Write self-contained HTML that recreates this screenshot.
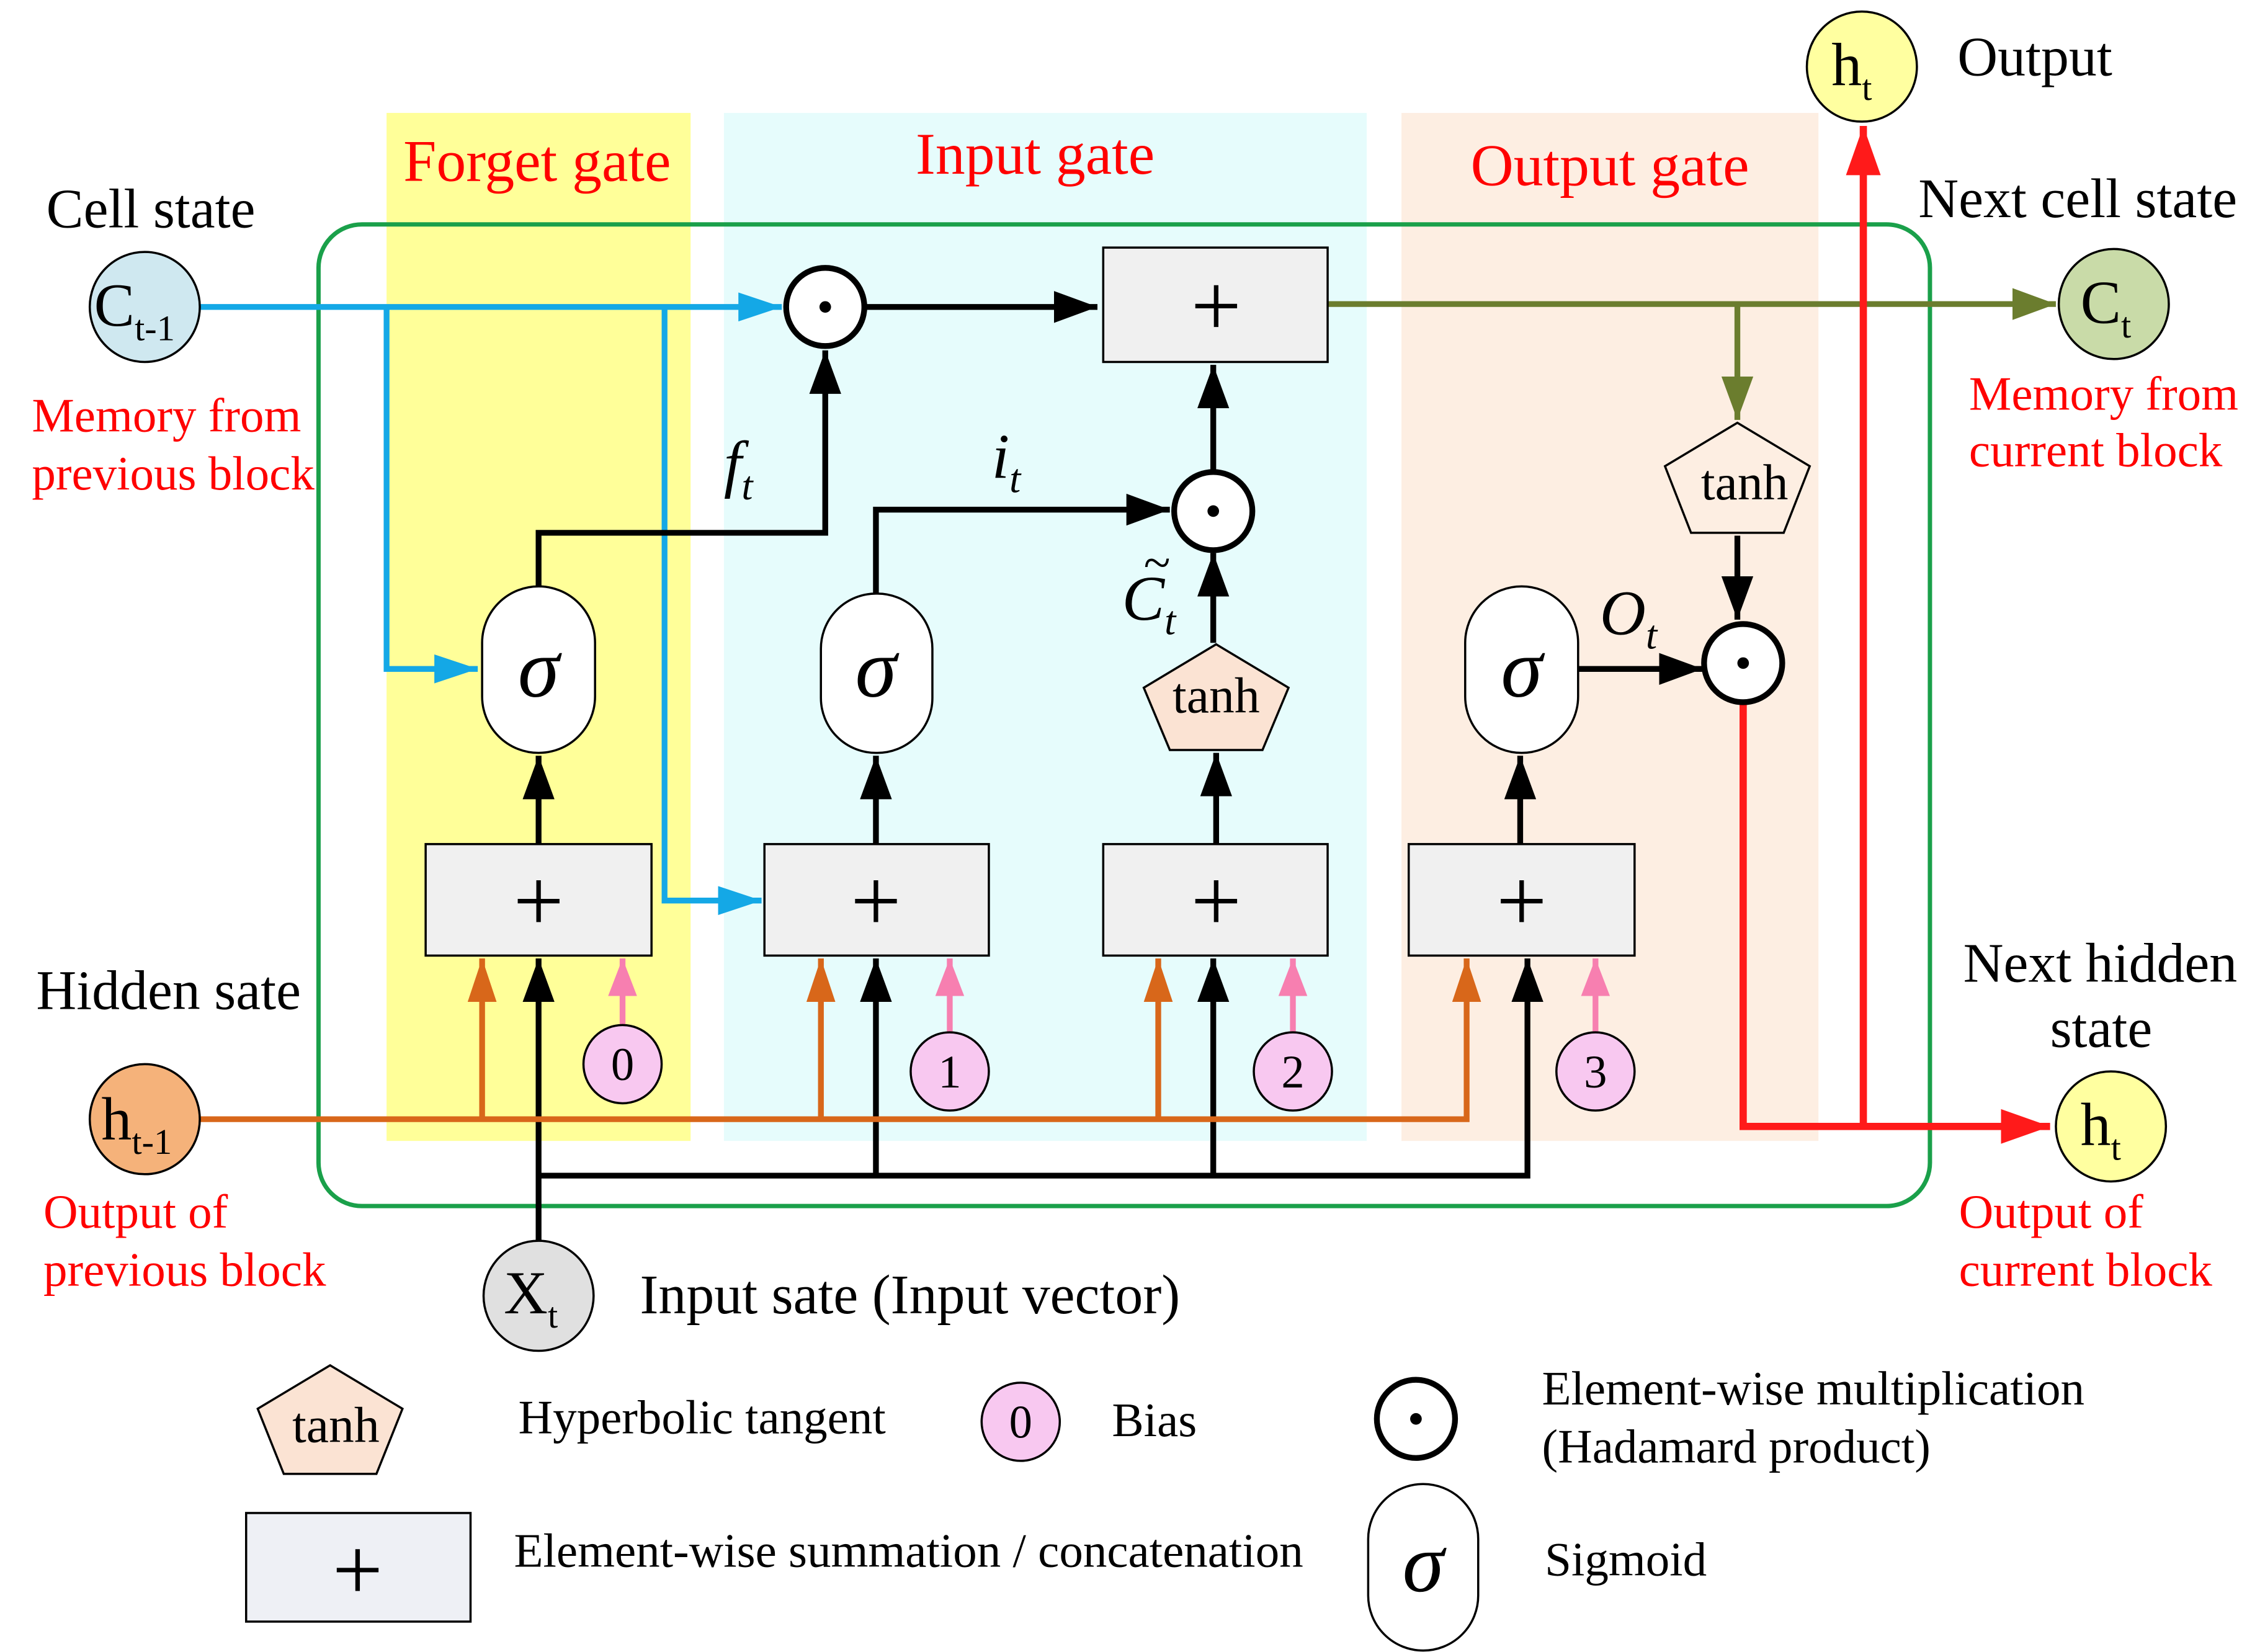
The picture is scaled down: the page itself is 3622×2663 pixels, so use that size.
<!DOCTYPE html>
<html><head><meta charset="utf-8"><style>
html,body{margin:0;padding:0;background:#fff}
svg{display:block}
text{font-family:"Liberation Serif",serif}
</style></head><body>
<svg width="3622" height="2663" viewBox="0 0 1552 1141" preserveAspectRatio="none" xmlns="http://www.w3.org/2000/svg">
<defs>
<marker id="mk" viewBox="0 0 10 10" refX="10" refY="5" markerWidth="30" markerHeight="22" orient="auto" markerUnits="userSpaceOnUse" preserveAspectRatio="none"><path d="M0,0 L10,5 L0,10z" fill="#000"/></marker>
<marker id="mb" viewBox="0 0 10 10" refX="10" refY="5" markerWidth="30" markerHeight="20" orient="auto" markerUnits="userSpaceOnUse" preserveAspectRatio="none"><path d="M0,0 L10,5 L0,10z" fill="#14a8e6"/></marker>
<marker id="mo" viewBox="0 0 10 10" refX="10" refY="5" markerWidth="30" markerHeight="20" orient="auto" markerUnits="userSpaceOnUse" preserveAspectRatio="none"><path d="M0,0 L10,5 L0,10z" fill="#d8671a"/></marker>
<marker id="mp" viewBox="0 0 10 10" refX="10" refY="5" markerWidth="26" markerHeight="20" orient="auto" markerUnits="userSpaceOnUse" preserveAspectRatio="none"><path d="M0,0 L10,5 L0,10z" fill="#f77fb0"/></marker>
<marker id="mg" viewBox="0 0 10 10" refX="10" refY="5" markerWidth="30" markerHeight="22" orient="auto" markerUnits="userSpaceOnUse" preserveAspectRatio="none"><path d="M0,0 L10,5 L0,10z" fill="#6b7d2e"/></marker>
<marker id="mr" viewBox="0 0 10 10" refX="10" refY="5" markerWidth="34" markerHeight="24" orient="auto" markerUnits="userSpaceOnUse" preserveAspectRatio="none"><path d="M0,0 L10,5 L0,10z" fill="#ff1a1a"/></marker>
</defs>

<rect x="267" y="78" width="210" height="710" fill="#ffff99"/>
<rect x="500" y="78" width="444" height="710" fill="#e6fcfc"/>
<rect x="968" y="78" width="288" height="710" fill="#fdeee2"/>
<rect x="220" y="155" width="1113" height="678" rx="30" fill="none" stroke="#1aa04a" stroke-width="3"/>

<text x="371" y="125" font-size="41" fill="#ff0000" text-anchor="middle">Forget gate</text>
<text x="715" y="120" font-size="41" fill="#ff0000" text-anchor="middle">Input gate</text>
<text x="1112" y="128" font-size="41" fill="#ff0000" text-anchor="middle">Output gate</text>

<g stroke="#14a8e6" stroke-width="4" fill="none">
<path d="M138,212 H540" marker-end="url(#mb)"/>
<path d="M267,212 V462 H330" marker-end="url(#mb)"/>
<path d="M459,212 V622 H526" marker-end="url(#mb)"/>
</g>

<g stroke="#000" stroke-width="4" fill="none">
<path d="M597,212 H758" marker-end="url(#mk)"/>
<path d="M372,405 V368 H570 V242" marker-end="url(#mk)"/>
<path d="M605,410 V352 H808" marker-end="url(#mk)"/>
<path d="M838,444 V382" marker-end="url(#mk)"/>
<path d="M838,326 V252" marker-end="url(#mk)"/>
<path d="M1090,462 H1176" marker-end="url(#mk)"/>
<path d="M1200,370 V428" marker-end="url(#mk)"/>
<path d="M372,583 V522" marker-end="url(#mk)"/>
<path d="M605,583 V522" marker-end="url(#mk)"/>
<path d="M840,583 V520" marker-end="url(#mk)"/>
<path d="M1050,583 V522" marker-end="url(#mk)"/>
<path d="M372,857 V662" marker-end="url(#mk)"/>
<path d="M372,812 H1055 V662" marker-end="url(#mk)"/>
<path d="M605,812 V662" marker-end="url(#mk)"/>
<path d="M838,812 V662" marker-end="url(#mk)"/>
</g>

<g stroke="#6b7d2e" stroke-width="4" fill="none">
<path d="M917,210 H1420" marker-end="url(#mg)"/>
<path d="M1200,210 V290" marker-end="url(#mg)"/>
</g>

<g stroke="#d8671a" stroke-width="4" fill="none">
<path d="M138,773 H1013 V662" marker-end="url(#mo)"/>
<path d="M333,773 V662" marker-end="url(#mo)"/>
<path d="M567,773 V662" marker-end="url(#mo)"/>
<path d="M800,773 V662" marker-end="url(#mo)"/>
</g>

<g stroke="#f77fb0" stroke-width="4" fill="none">
<path d="M430,708 V662" marker-end="url(#mp)"/>
<path d="M656,713 V662" marker-end="url(#mp)"/>
<path d="M893,713 V662" marker-end="url(#mp)"/>
<path d="M1102,713 V662" marker-end="url(#mp)"/>
</g>

<g stroke="#ff1a1a" stroke-width="5" fill="none">
<path d="M1204,485 V778 H1416" marker-end="url(#mr)"/>
<path d="M1287,778 V87" marker-end="url(#mr)"/>
</g>

<g fill="#f0f0f0" stroke="#000" stroke-width="1.5">
<rect x="762" y="171" width="155" height="79"/>
<rect x="294" y="583" width="156" height="77"/>
<rect x="528" y="583" width="155" height="77"/>
<rect x="762" y="583" width="155" height="77"/>
<rect x="973" y="583" width="156" height="77"/>
</g>
<g font-size="62" text-anchor="middle">
<text x="840" y="232">+</text>
<text x="372" y="643">+</text>
<text x="605" y="643">+</text>
<text x="840" y="643">+</text>
<text x="1051" y="643">+</text>
</g>

<g fill="#fff" stroke="#000" stroke-width="4">
<circle cx="570" cy="212" r="27"/>
<circle cx="838" cy="353" r="27"/>
<circle cx="1204" cy="458" r="27"/>
<circle cx="978" cy="980" r="27"/>
</g>
<g fill="#000"><circle cx="570" cy="212" r="4"/><circle cx="838" cy="353" r="4"/><circle cx="1204" cy="458" r="4"/><circle cx="978" cy="980" r="4"/></g>

<g fill="#fff" stroke="#000" stroke-width="1.5">
<rect x="333" y="405" width="78" height="115" rx="39"/>
<rect x="567" y="410" width="77" height="110" rx="38"/>
<rect x="1012" y="405" width="78" height="115" rx="39"/>
<rect x="945" y="1025" width="76" height="115" rx="38"/>
</g>
<g font-size="58" font-style="italic" text-anchor="middle">
<text x="372" y="481">σ</text>
<text x="605" y="481">σ</text>
<text x="1051" y="481">σ</text>
<text x="983" y="1099">σ</text>
</g>

<g fill="#fbe3d3" stroke="#000" stroke-width="1.5">
<path d="M1200,292 L1250,322 L1232,368 L1168,368 L1150,322z" fill="#fdeee2"/>
<path d="M840,445 L890,475 L872,518 L808,518 L790,475z"/>
<path d="M228,943 L278,973 L260,1018 L196,1018 L178,973z"/>
</g>
<g font-size="35" text-anchor="middle">
<text x="1205" y="345">tanh</text>
<text x="840" y="492">tanh</text>
<text x="232" y="996">tanh</text>
</g>

<g fill="#f8c8f0" stroke="#000" stroke-width="1.5">
<circle cx="430" cy="735" r="27"/><circle cx="656" cy="740" r="27"/>
<circle cx="893" cy="740" r="27"/><circle cx="1102" cy="740" r="27"/>
<circle cx="705" cy="982" r="27"/>
</g>
<g font-size="32" text-anchor="middle">
<text x="430" y="746">0</text><text x="656" y="751">1</text>
<text x="893" y="751">2</text><text x="1102" y="751">3</text>
<text x="705" y="993">0</text>
</g>

<g stroke="#000" stroke-width="1.5">
<circle cx="100" cy="212" r="38" fill="#cfe8f0"/>
<circle cx="1460" cy="210" r="38" fill="#c9dba8"/>
<circle cx="100" cy="773" r="38" fill="#f5b27a"/>
<circle cx="1458" cy="778" r="38" fill="#ffffa0"/>
<circle cx="1286" cy="46" r="38" fill="#ffffa0"/>
<circle cx="372" cy="895" r="38" fill="#e0e0e0"/>
</g>
<g font-size="42">
<text x="65" y="225">C<tspan font-size="25" dy="10">t-1</tspan></text>
<text x="1437" y="223">C<tspan font-size="25" dy="10">t</tspan></text>
<text x="70" y="787">h<tspan font-size="25" dy="10">t-1</tspan></text>
<text x="1437" y="791">h<tspan font-size="25" dy="10">t</tspan></text>
<text x="1265" y="59">h<tspan font-size="25" dy="10">t</tspan></text>
<text x="348" y="907">X<tspan font-size="25" dy="10">t</tspan></text>
</g>

<g font-size="44" font-style="italic">
<text x="500" y="335">f<tspan font-size="28" dy="10">t</tspan></text>
<text x="685" y="330">i<tspan font-size="28" dy="10">t</tspan></text>
<text x="775" y="428">C<tspan font-size="28" dy="10">t</tspan></text>
<text x="1105" y="438">O<tspan font-size="28" dy="10">t</tspan></text>
</g>
<text x="790" y="400" font-size="34">~</text>

<g font-size="38.5">
<text x="1352" y="52">Output</text>
<text x="1325" y="150">Next cell state</text>
<text x="32" y="157">Cell state</text>
<text x="25" y="697">Hidden sate</text>
<text x="1356" y="678">Next hidden</text>
<text x="1416" y="723">state</text>
<text x="442" y="907">Input sate (Input vector)</text>
</g>
<g font-size="33" fill="#ff0000">
<text x="1360" y="283">Memory from</text>
<text x="1360" y="322">current block</text>
<text x="22" y="298">Memory from</text>
<text x="22" y="338">previous block</text>
<text x="30" y="848">Output of</text>
<text x="30" y="888">previous block</text>
<text x="1353" y="848">Output of</text>
<text x="1353" y="888">current block</text>
</g>

<rect x="170" y="1045" width="155" height="75" fill="#eef0f5" stroke="#000" stroke-width="1.5"/>
<text x="247" y="1105" font-size="62" text-anchor="middle">+</text>
<g font-size="33">
<text x="358" y="990">Hyperbolic tangent</text>
<text x="768" y="992">Bias</text>
<text x="1065" y="970">Element-wise multiplication</text>
<text x="1065" y="1010">(Hadamard product)</text>
<text x="355" y="1082">Element-wise summation / concatenation</text>
<text x="1067" y="1088">Sigmoid</text>
</g>
</svg>
</body></html>
